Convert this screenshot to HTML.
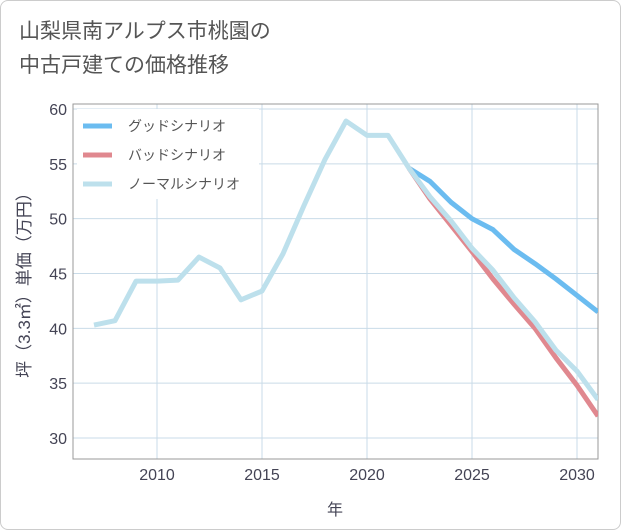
<!DOCTYPE html>
<html><head><meta charset="utf-8"><style>
body{margin:0;background:#fff;font-family:"Liberation Sans","Noto Sans CJK JP",sans-serif;}
#wrap{position:relative;width:619px;height:528px;border:1px solid #ccc;border-radius:8px;background:#fff;overflow:hidden}
#title{position:absolute;left:18px;top:14px;font-size:21px;line-height:34px;color:#555;}
</style></head><body>
<div id="wrap">
<div id="title">山梨県南アルプス市桃園の<br>中古戸建ての価格推移</div>
<svg id="chart" width="621" height="530" style="position:absolute;left:0;top:0"></svg>
</div>
<script>
const years=[2007,2008,2009,2010,2011,2012,2013,2014,2015,2016,2017,2018,2019,2020,2021,2022,2023,2024,2025,2026,2027,2028,2029,2030,2031];
const normal=[40.3,40.7,44.3,44.3,44.4,46.5,45.5,42.6,43.4,46.8,51.2,55.4,58.9,57.6,57.6,54.6,52.0,49.8,47.3,45.3,42.8,40.6,38.0,36.1,33.5];
const goodYears=[2022,2023,2024,2025,2026,2027,2028,2029,2030,2031];
const good=[54.6,53.4,51.5,50.0,49.0,47.2,45.9,44.5,43.0,41.5];
const bad=[54.6,51.8,49.4,47.0,44.5,42.2,40.0,37.3,34.8,32.0];
const xTicks=[2010,2015,2020,2025,2030];
const yTicks=[30,35,40,45,50,55,60];
const legendLabels=["グッドシナリオ","バッドシナリオ","ノーマルシナリオ"];
const legendColors=["#6bbcf0","#e0888f","#bde0ec"];

const L=72,R=597,T=103,B=458;
const x=v=>156+(v-2010)*21;
const y=v=>108+(60-v)*10.967;
const svg=document.getElementById('chart');
const NS='http://www.w3.org/2000/svg';
function mk(t,a){const e=document.createElementNS(NS,t);for(const k in a)e.setAttribute(k,a[k]);svg.appendChild(e);return e;}
const defs=mk('defs',{});
const cp=document.createElementNS(NS,'clipPath');cp.setAttribute('id','clip');
const cr=document.createElementNS(NS,'rect');cr.setAttribute('x',L);cr.setAttribute('y',T);cr.setAttribute('width',R-L);cr.setAttribute('height',B-T);
cp.appendChild(cr);defs.appendChild(cp);
for(const t of xTicks){
 const g=mk('line',{x1:x(t),x2:x(t),y1:T,y2:B,stroke:'#c9dbe8','stroke-width':1});
 
 const tx=mk('text',{x:x(t),y:B+21,'text-anchor':'middle','font-size':16,fill:'#445'});tx.textContent=t;
 
}
for(const t of yTicks){
 const g=mk('line',{x1:L,x2:R,y1:y(t),y2:y(t),stroke:'#c9dbe8','stroke-width':1});
 
 const tx=mk('text',{x:L-6,y:y(t)+6,'text-anchor':'end','font-size':16,fill:'#445'});tx.textContent=t;
 
}
const fr=mk('rect',{x:L,y:T,width:R-L,height:B-T,fill:'none',stroke:'#999','stroke-width':1});

function line(xs,vs,c,name){
 const p=mk('polyline',{points:xs.map((v,i)=>x(v)+','+y(vs[i])).join(' '),fill:'none',stroke:c,'stroke-width':5,'stroke-linejoin':'round','clip-path':'url(#clip)'});
 
}
line(goodYears,good,legendColors[0],'good-scenario-line');
line(goodYears,bad,legendColors[1],'bad-scenario-line');
line(years,normal,legendColors[2],'normal-scenario-line');
const lb=mk('rect',{x:76,y:108,width:182,height:90,fill:'#fff'});

legendLabels.forEach((s,i)=>{
 const yy=125+i*29;
 const l=mk('line',{x1:82,x2:111,y1:yy,y2:yy,stroke:legendColors[i],'stroke-width':5});
 
 const t=mk('text',{x:127,y:yy+5,'font-size':14,fill:'#555'});t.textContent=s;
 
});
const xt=mk('text',{x:334,y:514,'text-anchor':'middle','font-size':16,fill:'#445'});xt.textContent='年';

const yt=mk('text',{x:0,y:0,'text-anchor':'middle','font-size':17,fill:'#445',transform:'translate(29,280) rotate(-90)'});yt.textContent='坪（3.3㎡）単価（万円）';

</script>
</body></html>
